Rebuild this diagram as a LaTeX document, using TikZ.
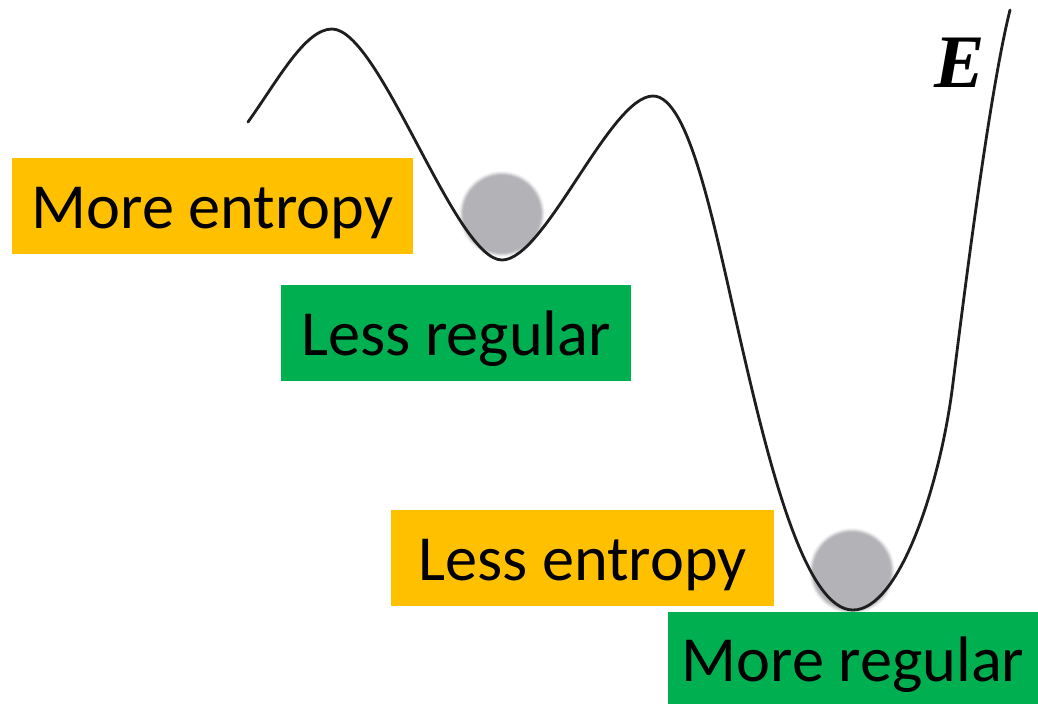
\documentclass[tikz,border=0pt]{standalone}
\usepackage{fontspec}
\setmainfont{Carlito}
\newfontfamily\efont{Liberation Serif}
\usepackage{tikz}
\usetikzlibrary{positioning}
\definecolor{orng}{HTML}{FFC000}
\definecolor{grn}{HTML}{00B050}
\definecolor{ballg}{HTML}{B3B3B7}
\definecolor{inkc}{HTML}{1E1E1E}
\tikzset{
  tag/.style={rectangle, inner sep=0pt, minimum height=9.6mm, align=center,
              text height=7mm, text depth=2.6mm,
              font=\fontsize{18.3}{22}\selectfont, text=black},
  tagorng/.style={tag, fill=orng},
  taggrn/.style={tag, fill=grn},
  curve/.style={draw=inkc, line width=0.8pt, line cap=round},
}
\begin{document}
\begin{tikzpicture}
  \useasboundingbox (0,0) rectangle (10.38,7.03);
  % balls (soft edge)
  \foreach \c in {(5.02,4.89),(8.52,1.32)}{
    \foreach \r/\o in {0.43/0.12,0.42/0.2,0.41/0.35,0.40/0.55,0.39/0.8,0.38/1}
      \fill[ballg, opacity=\o] \c circle (\r);
  }
  % energy landscape
  \draw[curve] (2.48,5.81)
    .. controls (2.78,6.23) and (3.05,6.74) .. (3.32,6.74)
    .. controls (3.80,6.74) and (4.55,4.43) .. (5.02,4.43)
    .. controls (5.45,4.43) and (6.10,6.07) .. (6.53,6.07)
    .. controls (6.90,6.07) and (7.15,4.73) .. (7.42,3.56)
    .. controls (7.69,2.39) and (8.05,0.93) .. (8.53,0.93)
    .. controls (9.00,0.93) and (9.41,2.21) .. (9.53,3.20)
    .. controls (9.66,4.23) and (9.90,6.13) .. (10.10,6.93);
  \node[font=\fontsize{21.5}{24}\selectfont\efont\bfseries\itshape] (E) at (9.60,6.40) {E};
  % labels
  \node[tagorng, minimum width=40.1mm] (moreent) at (2.125,4.97) {More entropy};
  \node[taggrn, minimum width=35mm] (lessreg) at (4.56,3.70) {Less regular};
  \node[tagorng, minimum width=38.3mm] (lessent) at (5.825,1.45) {Less entropy};
  \node[taggrn, minimum width=37mm] (morereg) at (8.53,0.435) {More regular};
\end{tikzpicture}
\end{document}
